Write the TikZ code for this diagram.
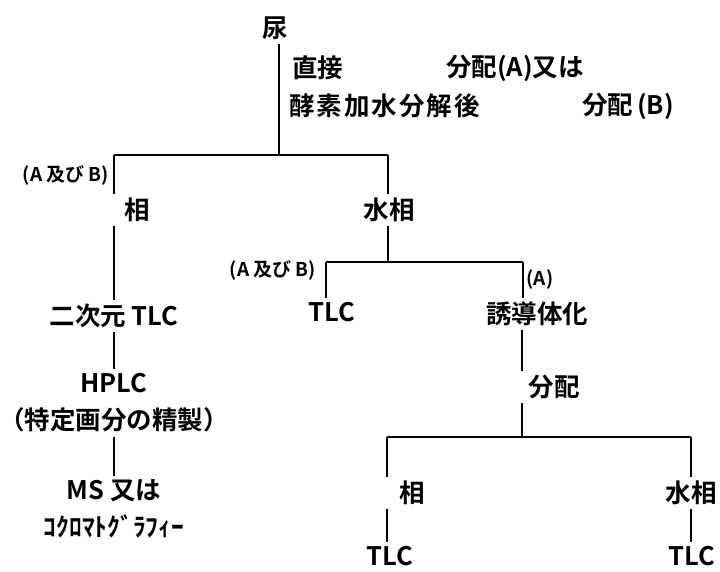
\documentclass[tikz,border=0pt]{standalone}
\usepackage{fontspec}
\setmainfont{Noto Sans CJK JP}[BoldFont={* Bold}]
\newfontfamily\jp{Noto Sans CJK JP Bold}
\newcommand\ksp{\kern2pt}
\begin{document}
\begin{tikzpicture}[x=1pt,y=-1pt,
  lbl/.style={font=\jp\fontsize{25.5}{37}\selectfont, inner sep=4pt, align=center},
  sm/.style={font=\jp\fontsize{19}{20}\selectfont, inner sep=0pt},
  ln/.style={line width=1.3pt},
  thk/.style={line width=1.8pt}]
\useasboundingbox (0,0) rectangle (720,571);
% nodes
\node[lbl] (niao) at (275,28) {尿};
\node[lbl,anchor=west,inner sep=0pt] (zhijie) at (292,68) {直接};
\node[lbl,anchor=west,inner sep=0pt] (kouso) at (289,106) {酵\ksp 素\ksp 加\ksp 水\ksp 分\ksp 解\ksp 後};
\node[lbl,anchor=west,inner sep=0pt] (bunA) at (446,68) {分配(A)又は};
\node[lbl,anchor=west,inner sep=0pt] (bunB) at (582,106) {分配\kern4pt(B)};
\node[sm] (ab1) at (66,175) {(A 及び B)};
\node[lbl] (sou1) at (137,210) {相};
\node[lbl] (sui1) at (389,210) {水相};
\node[sm] (ab2) at (273,270) {(A 及び B)};
\node[sm] (a1) at (540,279) {(A)};
\node[lbl] (tlc1) at (332,312) {TLC};
\node[lbl] (yudo) at (537,314) {誘導体化};
\node[lbl] (niji) at (114,316) {二次元 TLC};
\node[lbl] (hplc) at (114,403) {HPLC\\（特定画分の精製）};
\node[lbl] (ms) at (114,509) {MS 又は\\ｺｸﾛﾏﾄｸﾞﾗﾌｨｰ};
\node[lbl] (bunpai) at (554,387) {分配};
\node[lbl] (sou2) at (412,493) {相};
\node[lbl] (sui2) at (691,493) {水相};
\node[lbl,inner sep=1pt] (tlc2) at (390,556) {TLC};
\node[lbl,inner sep=1pt] (tlc3) at (692,556) {TLC};
% junctions
\coordinate (t0) at (279,155);
\coordinate (tl) at (114,155);
\coordinate (tr) at (388,155);
\coordinate (m0) at (388,262);
\coordinate (ml) at (326,262);
\coordinate (mr) at (523,262);
\coordinate (b0) at (522,437);
\coordinate (bl) at (387,437);
\coordinate (br) at (691,437);
% connectors
\draw[ln] (niao.south -| t0) -- (t0);
\draw[ln] (tl) -- (tr);
\draw[ln] (tl) -- (sou1.north -| tl);
\draw[ln] (sou1.south -| tl) -- (niji.north);
\draw[ln] (niji.south) -- (hplc.north);
\draw[ln] (hplc.south) -- (ms.north);
\draw[ln] (tr) -- (sui1.north -| tr);
\draw[ln] (sui1.south -| m0) -- (m0);
\draw[thk] (ml) -- (mr);
\draw[ln] (ml) -- (tlc1.north -| ml);
\draw[ln] (mr) -- (yudo.north -| mr);
\draw[ln] (yudo.south -| b0) -- (bunpai.north -| b0);
\draw[ln] (bunpai.south -| b0) -- (b0);
\draw[ln] (bl) -- (br);
\draw[ln] (bl) -- (sou2.north -| bl);
\draw[ln] (sou2.south -| bl) -- ([yshift=3pt]tlc2.north -| bl);
\draw[thk] (br) -- (sui2.north -| br);
\draw[thk] (sui2.south -| br) -- ([yshift=3pt]tlc3.north -| br);
\end{tikzpicture}
\end{document}
